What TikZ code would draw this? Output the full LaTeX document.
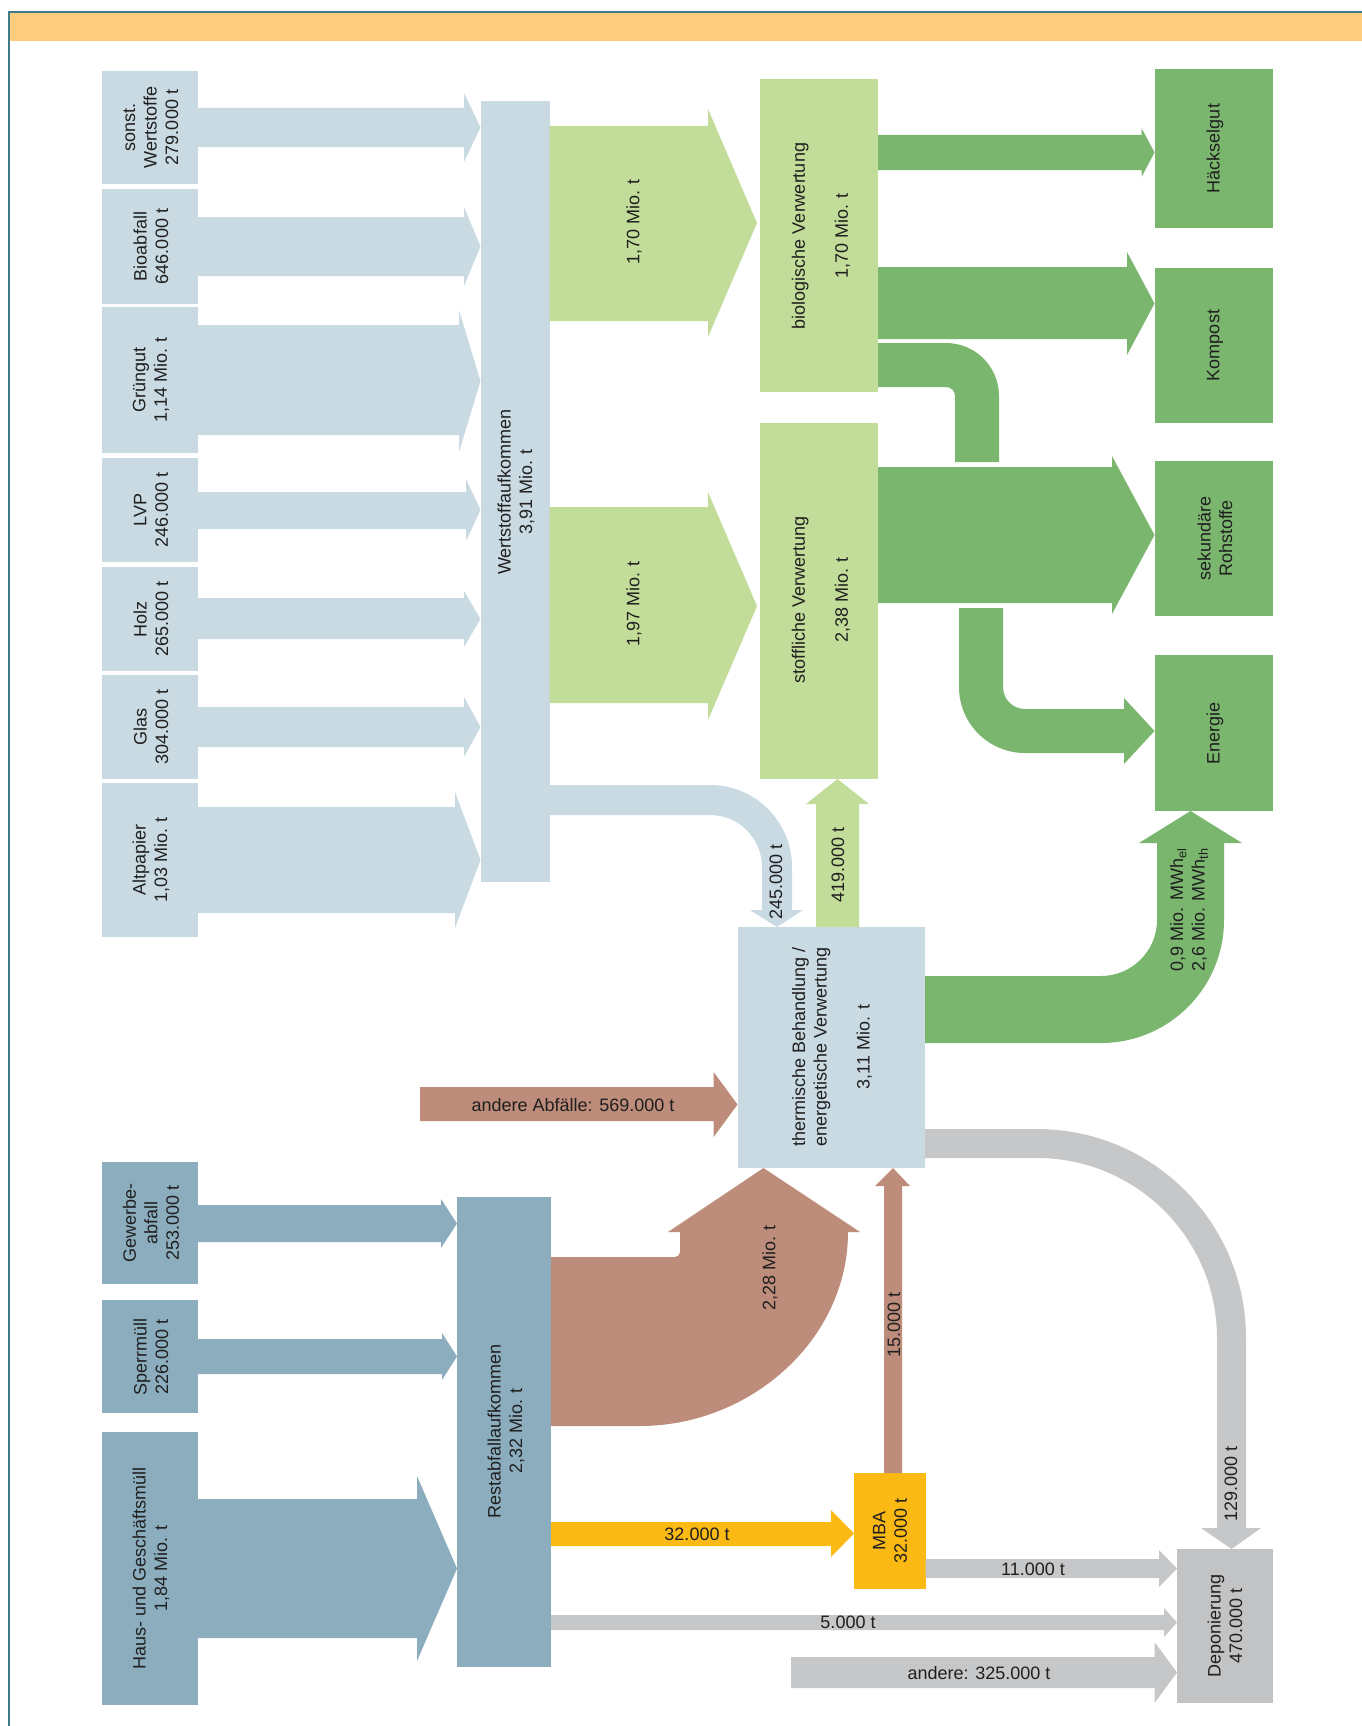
\documentclass[tikz,border=0pt]{standalone}
\usepackage{fontspec}
\setmainfont{Liberation Sans}
\definecolor{cband}{HTML}{FFCC7F}
\definecolor{cframe}{HTML}{3F7A88}
\definecolor{cwert}{HTML}{C9DAE2}
\definecolor{cgl}{HTML}{C2DC99}
\definecolor{cgd}{HTML}{7BB66F}
\definecolor{crest}{HTML}{8BADBE}
\definecolor{cbrown}{HTML}{BD8C7A}
\definecolor{cyel}{HTML}{FBB914}
\definecolor{cgray}{HTML}{C6C7C9}
\definecolor{cdep}{HTML}{C2C3C5}
\newcommand{\harrow}[8]{\fill[#1] (#2,#3) -- (#5,#3) -- (#5,#6) -- (#8,{(#6+#7)/2}) -- (#5,#7) -- (#5,#4) -- (#2,#4) -- cycle;}
\newcommand{\mkbox}[6]{\fill[#2] (#3,#4) rectangle (#5,#6); \coordinate (#1) at ({(#3+#5)/2},{(#4+#6)/2});}
\tikzset{
  txt/.style={font=\fontsize{18}{21.5}\selectfont, align=center, inner sep=0pt, text=black!88},
  vtxt/.style={txt, rotate=90}
}
\begin{document}
\begin{tikzpicture}[x=1pt,y=-1pt]
\useasboundingbox (0,0) rectangle (1362,1726);
\fill[white] (0,0) rectangle (1362,1726);
% header band and frame
\fill[cband] (9.5,12.5) rectangle (1362,40.7);
\draw[cframe, line width=2pt] (8.7,1726) -- (8.7,11.7) -- (1362,11.7);

% ---------- Wertstoff inputs ----------
\mkbox{sonst}{cwert}{101.5}{71}{198}{184}
\mkbox{bio}{cwert}{101.5}{189}{198}{304}
\mkbox{gruen}{cwert}{101.5}{307}{198}{453}
\mkbox{lvp}{cwert}{101.5}{458}{198}{562}
\mkbox{holz}{cwert}{101.5}{567}{198}{671}
\mkbox{glas}{cwert}{101.5}{675}{198}{779}
\mkbox{alt}{cwert}{101.5}{783}{198}{937}
\harrow{cwert}{198}{108}{147}{464}{93}{162}{480.5}
\harrow{cwert}{198}{217}{276}{464}{207}{286}{480.5}
\harrow{cwert}{198}{325}{435}{459}{310}{452}{480.5}
\harrow{cwert}{198}{492}{529}{466}{479}{541}{480.5}
\harrow{cwert}{198}{598}{639}{464}{591}{647}{480.5}
\harrow{cwert}{198}{707}{747}{464}{697}{757}{480.5}
\harrow{cwert}{198}{807}{913}{455}{792}{928}{480.5}
\mkbox{wert}{cwert}{481}{101}{549.5}{882}

% ---------- green flows ----------
\harrow{cgl}{549.5}{126}{321}{708}{109}{337}{757}
\harrow{cgl}{549.5}{507}{703}{708}{492}{720}{757}
\mkbox{biov}{cgl}{760}{79}{878}{392}
\mkbox{stoff}{cgl}{760}{423}{878}{779}
\mkbox{haeck}{cgd}{1154.5}{69}{1272.6}{228}
\mkbox{komp}{cgd}{1154.5}{268}{1272.6}{423}
\mkbox{sek}{cgd}{1154.5}{461}{1272.6}{616}
\mkbox{ener}{cgd}{1154.5}{655}{1272.6}{811}
\harrow{cgd}{878}{135}{170}{1141.5}{128}{177}{1154.5}
\harrow{cgd}{878}{267}{339}{1127}{252}{355}{1154.5}
\harrow{cgd}{878}{467}{603}{1112}{456}{614}{1154.5}
% bio -> sekundaere Rohstoffe bend
\fill[cgd] (878,343) -- (946,343) .. controls (975.3,343) and (999,366.7) .. (999,396)
  -- (999,462) -- (955,462) -- (955,396) .. controls (955,391) and (951,387) .. (946,387)
  -- (878,387) -- cycle;
% branch to Energie
\fill[cgd] (959,608) -- (1003,608) -- (1003,687) .. controls (1003,699.2) and (1012.8,709) .. (1025,709)
  -- (1124,709) -- (1124,698) -- (1154.5,731) -- (1124,764) -- (1124,753) -- (1025,753)
  .. controls (988.5,753) and (959,723.5) .. (959,687) -- cycle;

% ---------- thermische Behandlung ----------
\mkbox{therm}{cwert}{737.5}{927}{925}{1168}
% Wertstoff -> thermische (245.000 t)
\fill[cwert] (549.5,785) -- (710,785) .. controls (755.3,785) and (792,821.7) .. (792,867)
  -- (792,910) -- (803,910) -- (777,927) -- (750,910) -- (762,910) -- (762,867)
  .. controls (762,838.3) and (738.7,815) .. (710,815) -- (549.5,815) -- cycle;
% 419.000 t up to stoffliche
\fill[cgl] (816,927) -- (816,804) -- (806,804) -- (837.5,779) -- (869,804) -- (859,804) -- (859,927) -- cycle;
% thermische -> Energie
\fill[cgd] (925,976) -- (1101,976) .. controls (1131.9,976) and (1157,950.9) .. (1157,920)
  -- (1157,843) -- (1139,843) -- (1190.5,811) -- (1242,843) -- (1224,843) -- (1224,920)
  .. controls (1224,987.9) and (1168.9,1043) .. (1101,1043) -- (925,1043) -- cycle;
% thermische -> Deponierung
\fill[cgray] (925,1129) -- (1037,1129) .. controls (1152.4,1129) and (1246,1222.6) .. (1246,1338)
  -- (1246,1528) -- (1261,1528) -- (1231.5,1549) -- (1201,1528) -- (1217,1528) -- (1217,1338)
  .. controls (1217,1238.6) and (1136.4,1158) .. (1037,1158) -- (925,1158) -- cycle;
% andere Abfaelle
\harrow{cbrown}{420}{1087}{1121}{713.6}{1072}{1137}{737.5}

% ---------- Restabfall ----------
\mkbox{gew}{crest}{101.5}{1162}{198}{1284}
\mkbox{sperr}{crest}{101.5}{1300}{198}{1413}
\mkbox{haus}{crest}{101.5}{1432}{198}{1705}
\harrow{crest}{198}{1205}{1242}{441}{1199}{1248}{457}
\harrow{crest}{198}{1339}{1374}{442}{1333}{1380}{457}
\harrow{crest}{198}{1499}{1638}{417}{1476}{1661}{457}
\mkbox{rest}{crest}{457}{1197}{551}{1667}
% 2,28 Mio. t brown flow
\fill[cbrown] (551,1257) -- (675,1257) .. controls (677.8,1257) and (680,1254.8) .. (680,1252)
  -- (680,1232) -- (668,1232) -- (763.5,1168) -- (860,1232) -- (848,1232)
  .. controls (848,1340) and (750,1426) .. (640,1426) -- (551,1426) -- cycle;
% MBA
\mkbox{mba}{cyel}{854}{1473}{925.6}{1589}
\harrow{cyel}{551}{1522}{1546}{831}{1510}{1557}{854}
\fill[cbrown] (884,1473) -- (884,1186) -- (875,1186) -- (893,1168) -- (910,1186) -- (902,1186) -- (902,1473) -- cycle;
% Deponierung
\mkbox{depo}{cdep}{1177}{1549}{1272.6}{1703}
\harrow{cgray}{925.6}{1559}{1578}{1159}{1550}{1587}{1177}
\harrow{cgray}{551}{1615}{1630}{1164}{1608}{1637}{1177}
\harrow{cgray}{791}{1657}{1688}{1154.5}{1642}{1703}{1177}

% ---------- texts ----------
\node[vtxt] (t-sonst) at (151,127.5) {sonst.\\Wertstoffe\\279.000 t};
\node[vtxt] (t-bio) at (151,246.5) {Bioabfall\\646.000 t};
\node[vtxt] (t-gruen) at (151,380) {Grüngut\\1,14 Mio. t};
\node[vtxt] (t-lvp) at (151,510) {LVP\\246.000 t};
\node[vtxt] (t-holz) at (151,619) {Holz\\265.000 t};
\node[vtxt] (t-glas) at (151,727) {Glas\\304.000 t};
\node[vtxt] (t-alt) at (151,860) {Altpapier\\1,03 Mio. t};
\node[vtxt] (t-wert) at (516,492) {Wertstoffaufkommen\\3,91 Mio. t};
\node[vtxt] (t-170) at (634,222) {1,70 Mio. t};
\node[vtxt] (t-197) at (634,604) {1,97 Mio. t};
\node[vtxt] (t-biov) at (821,236) {biologische Verwertung\\[21.5pt]1,70 Mio. t};
\node[vtxt] (t-stoff) at (821,600) {stoffliche Verwertung\\[21.5pt]2,38 Mio. t};
\node[vtxt] (t-haeck) at (1215,148.5) {Häckselgut};
\node[vtxt] (t-komp) at (1215,345.5) {Kompost};
\node[vtxt] (t-sek) at (1215,538.5) {sekundäre\\Rohstoffe};
\node[vtxt] (t-ener) at (1215,733) {Energie};
\node[vtxt] (t-245) at (776,882) {245.000 t};
\node[vtxt] (t-419) at (838,865) {419.000 t};
\node[vtxt] (t-mwh) at (1189,910) {0,9 Mio. MWh\textsubscript{el}\\2,6 Mio. MWh\textsubscript{th}};
\node[vtxt] (t-therm) at (832,1047) {thermische Behandlung /\\energetische Verwertung\\[21.5pt]3,11 Mio. t};
\node[txt] (t-andab) at (573,1105) {andere Abfälle: 569.000 t};
\node[vtxt] (t-gew) at (151,1223) {Gewerbe-\\abfall\\253.000 t};
\node[vtxt] (t-sperr) at (151,1356.5) {Sperrmüll\\226.000 t};
\node[vtxt] (t-haus) at (151,1568.5) {Haus- und Geschäftsmüll\\1,84 Mio. t};
\node[vtxt] (t-rest) at (506,1431) {Restabfallaufkommen\\2,32 Mio. t};
\node[vtxt] (t-228) at (770,1268) {2,28 Mio. t};
\node[vtxt] (t-15) at (894,1325) {15.000 t};
\node[vtxt] (t-129) at (1231,1484) {129.000 t};
\node[vtxt] (t-mba) at (890,1531) {MBA\\32.000 t};
\node[vtxt] (t-depo) at (1225,1626) {Deponierung\\470.000 t};
\node[txt] (t-32) at (697,1534) {32.000 t};
\node[txt] (t-11) at (1033,1569) {11.000 t};
\node[txt] (t-5) at (848,1622) {5.000 t};
\node[txt] (t-and) at (979,1673) {andere: 325.000 t};
\end{tikzpicture}
\end{document}
